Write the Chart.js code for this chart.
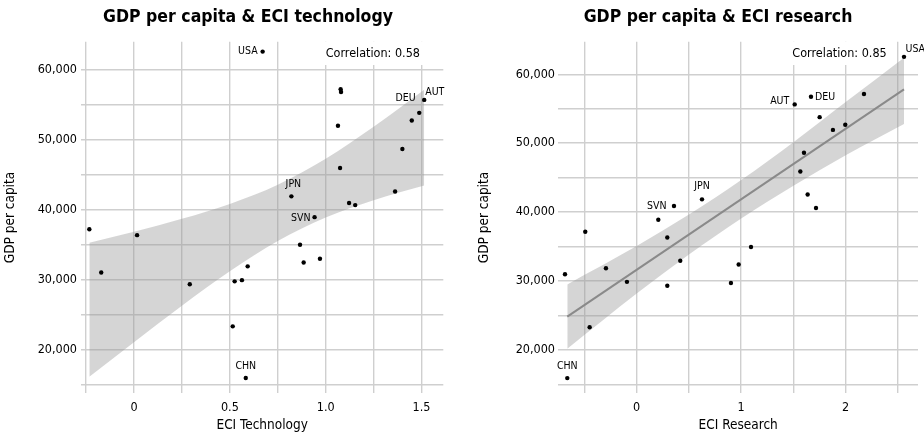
<!DOCTYPE html>
<html><head><meta charset="utf-8">
<script src="https://cdn.jsdelivr.net/npm/chart.js@4.4.1/dist/chart.umd.min.js"></script>
<style>
html,body{margin:0;padding:0;background:#fff;}
#wrap{position:relative;width:924px;height:437px;overflow:hidden;}
.panel{position:absolute;top:0;width:462px;height:437px;}
canvas{display:block;}
</style></head><body>
<div id="wrap">
<div class="panel" style="left:0"><canvas id="c1" width="462" height="437"></canvas></div>
<div class="panel" style="left:462px"><canvas id="c2" width="462" height="437"></canvas></div>
</div>
<script>
// ---- data ----
const gdpPerCapita = [62530, 56750, 57150, 55630, 53780, 52680, 51930, 48620, 45900, 42550,
  41850, 40890, 40600, 38880, 37150, 36310, 34940, 32945, 32400, 31850,
  30980, 29880, 29710, 29300, 23280, 15910];
const eciTechnology = [0.671, 1.080, 1.078, 1.514, 1.488, 1.449, 1.064, 1.400, 1.075, 1.362,
  0.821, 1.122, 1.154, 0.942, -0.233, 0.016, 0.866, 0.970, 0.885, 0.593,
  -0.171, 0.563, 0.525, 0.291, 0.515, 0.583];
const eciResearch = [2.558, 1.668, 2.175, 1.512, 1.751, 1.996, 1.878, 1.601, 1.566, 1.636,
  0.625, 0.357, 1.716, 0.207, -0.492, 0.293, 1.094, 0.417, 0.976, -0.294,
  -0.686, -0.093, 0.902, 0.293, -0.450, -0.664];
const techLabels = ["USA", "", "", "AUT", "DEU", "", "", "", "", "", "JPN", "", "", "SVN",
  "", "", "", "", "", "", "", "", "", "", "", "CHN"];
const researchLabels = ["USA", "DEU", "", "AUT", "", "", "", "", "", "", "JPN", "", "", "SVN",
  "", "", "", "", "", "", "", "", "", "", "", "CHN"];

// confidence bands of the linear fits
const techBandX = [-0.233, 0, 0.25, 0.5, 0.75, 1.0, 1.25, 1.514];
const techBandLow = [16085, 21013, 26232, 31159, 35474, 38821, 41299, 43383];
const techBandHigh = [35229, 36795, 38634, 40767, 43510, 47221, 51801, 57087];
const researchBandX = [-0.664, 0, 0.5, 1, 1.5, 2, 2.558];
const researchBandLow = [20150, 28169, 33835, 39072, 43832, 48247, 52800];
const researchBandHigh = [29500, 35071, 39649, 44654, 50138, 55965, 62400];
const researchFitX = [-0.664, 2.558];
const researchFitY = [24819, 57822];

// ticks
const techXTicks = [-0.25, 0, 0.25, 0.5, 0.75, 1.0, 1.25, 1.5];
const techXTickLabels = ["", "0", "", "0.5", "", "1.0", "", "1.5"];
const researchXTicks = [-0.5, 0, 0.5, 1, 1.5, 2, 2.5];
const researchXTickLabels = ["", "0", "", "1", "", "2", ""];
const yTicks = [15000, 20000, 25000, 30000, 35000, 40000, 45000, 50000, 55000, 60000];
const yTickLabels = ["", "20,000", "", "30,000", "", "40,000", "", "50,000", "", "60,000"];

const titles = ["GDP per capita & ECI technology", "GDP per capita & ECI research"];
const xTitles = ["ECI Technology", "ECI Research"];
const yTitle = "GDP per capita";
const correlations = ["Correlation: 0.58", "Correlation: 0.85"];

// ---- styles ----
const FONT = "'DejaVu Sans Condensed', 'Liberation Sans Narrow', 'DejaVu Sans', sans-serif";
const GRID = '#cfcfcf';
const BAND = 'rgba(150,150,150,0.4)';

const techLabelStyle = {
  USA: {align: 'right', dx: -5, dy: -0.5},
  AUT: {align: 'left', dx: 1, dy: -8},
  DEU: {align: 'right', dx: -3.6, dy: -15},
  JPN: {align: 'center', dx: 2, dy: -12},
  SVN: {align: 'right', dx: -4, dy: 1.5},
  CHN: {align: 'center', dx: 0, dy: -11.5}
};
const researchLabelStyle = {
  USA: {align: 'left', dx: 1.5, dy: -8},
  DEU: {align: 'left', dx: 4, dy: 1},
  AUT: {align: 'right', dx: -5.4, dy: -3},
  JPN: {align: 'center', dx: 0, dy: -13},
  SVN: {align: 'center', dx: -1.6, dy: -14},
  CHN: {align: 'center', dx: 0, dy: -11.5}
};

const pts = (xs, ys) => xs.map((x, i) => ({x: x, y: ys[i]}));

const labelPlugin = {
  id: 'ptLabels',
  afterDraw(chart, args, o) {
    const ctx = chart.ctx;
    const meta = chart.getDatasetMeta(0);
    const area = chart.chartArea;
    ctx.save();
    // panel title
    ctx.font = 'bold 17.5px ' + FONT;
    ctx.fillStyle = '#000';
    ctx.textAlign = 'center';
    ctx.textBaseline = 'middle';
    ctx.fillText(o.title, o.titleX, 17.5);
    // correlation box
    ctx.font = '12.5px ' + FONT;
    const w = ctx.measureText(o.corr).width;
    const right = area.right - o.corrRight;
    const cy = area.top + 11.6;
    ctx.fillStyle = '#ffffff';
    ctx.fillRect(right - w - 1.5, area.top, w + 5, 23.3);
    ctx.fillStyle = '#000';
    ctx.textAlign = 'right';
    ctx.fillText(o.corr, right, cy);
    // point labels
    ctx.font = '10.5px ' + FONT;
    o.texts.forEach((t, i) => {
      if (!t) return;
      const el = meta.data[i];
      const s = o.style[t];
      ctx.textAlign = s.align;
      ctx.fillText(t, el.x + s.dx, el.y + s.dy);
    });
    ctx.restore();
  }
};

function makeChart(id, cfg) {
  const datasets = [
    {data: pts(cfg.x, gdpPerCapita), backgroundColor: '#000', borderColor: '#000',
     pointRadius: 2.2, pointHoverRadius: 2.2, borderWidth: 0, showLine: false, order: 0},
    {data: pts(cfg.bandX, cfg.bandLow), showLine: true, borderWidth: 0, borderColor: 'rgba(0,0,0,0)',
     pointRadius: 0, fill: false, cubicInterpolationMode: 'monotone', order: 3},
    {data: pts(cfg.bandX, cfg.bandHigh), showLine: true, borderWidth: 0, borderColor: 'rgba(0,0,0,0)',
     pointRadius: 0, fill: '-1', backgroundColor: BAND, cubicInterpolationMode: 'monotone', order: 2}
  ];
  if (cfg.fitX) {
    datasets.push({data: pts(cfg.fitX, cfg.fitY), showLine: true, borderColor: '#8a8a8a',
      borderWidth: 2, pointRadius: 0, fill: false, order: 1});
  }
  return new Chart(document.getElementById(id), {
    type: 'scatter',
    data: {datasets: datasets},
    options: {
      responsive: false, animation: false, devicePixelRatio: 1,
      layout: {padding: {left: 0, right: cfg.padRight, top: 41.7, bottom: 0}},
      plugins: {
        legend: {display: false}, tooltip: {enabled: false}, title: {display: false},
        ptLabels: {texts: cfg.labels, style: cfg.labelStyle, corr: cfg.corr, corrRight: cfg.corrRight,
          title: cfg.title, titleX: cfg.titleX}
      },
      scales: {
        x: {
          type: 'linear', min: cfg.xMin, max: cfg.xMax,
          afterBuildTicks: s => { s.ticks = cfg.xTicks.map(v => ({value: v})); },
          afterFit: s => { s.height = 43.7; },
          border: {display: false},
          grid: {color: GRID, lineWidth: 1.4, drawTicks: false},
          ticks: {padding: 7, color: '#000', maxRotation: 0, autoSkip: false,
            font: {family: FONT, size: 12.5},
            callback: (v, i) => cfg.xTickLabels[i]},
          title: {display: true, text: cfg.xTitle, color: '#000', font: {family: FONT, size: 13.5, lineHeight: 1.2},
            padding: {top: 0, bottom: 3.5}}
        },
        y: {
          type: 'linear', min: cfg.yMin, max: cfg.yMax,
          afterBuildTicks: s => { s.ticks = yTicks.map(v => ({value: v})); },
          afterFit: s => { s.width = cfg.yWidth; },
          border: {display: false},
          grid: {color: GRID, lineWidth: 1.4, drawTicks: false},
          ticks: {padding: cfg.yPad, color: '#000', autoSkip: false,
            font: {family: FONT, size: 12.5},
            callback: (v, i) => yTickLabels[i]},
          title: {display: true, text: yTitle, color: '#000', font: {family: FONT, size: 13.5, lineHeight: 1.2},
            padding: {top: cfg.yTitleTop, bottom: 0}}
        }
      }
    },
    plugins: [labelPlugin]
  });
}

function draw() {
  makeChart('c1', {
    x: eciTechnology, bandX: techBandX, bandLow: techBandLow, bandHigh: techBandHigh,
    title: titles[0], titleX: 248, xTitle: xTitles[0], labels: techLabels, labelStyle: techLabelStyle,
    corr: correlations[0], corrRight: 23.3,
    xMin: -0.2765, xMax: 1.6135, xTicks: techXTicks, xTickLabels: techXTickLabels,
    yMin: 13714, yMax: 63943, yWidth: 81, yPad: 4, yTitleTop: 2, padRight: 18.7
  });
  makeChart('c2', {
    x: eciResearch, bandX: researchBandX, bandLow: researchBandLow, bandHigh: researchBandHigh,
    fitX: researchFitX, fitY: researchFitY,
    title: titles[1], titleX: 256, xTitle: xTitles[1], labels: researchLabels, labelStyle: researchLabelStyle,
    corr: correlations[1], corrRight: 31.3,
    xMin: -0.750, xMax: 2.692, xTicks: researchXTicks, xTickLabels: researchXTickLabels,
    yMin: 13701, yMax: 64731, yWidth: 96.3, yPad: 3.3, yTitleTop: 14, padRight: 6
  });
}

draw();
</script>
</body></html>
